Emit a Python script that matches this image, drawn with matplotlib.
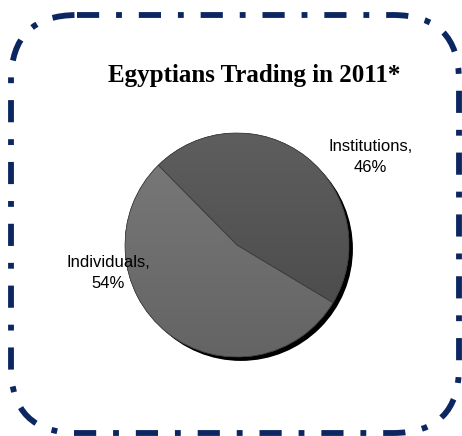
import numpy as np
import matplotlib
matplotlib.use("Agg")
import matplotlib.pyplot as plt
from matplotlib.patches import FancyBboxPatch, Circle, Wedge

# data
labels = ["Institutions", "Individuals"]
shares = [46, 54]
colors_top = ["#5e5e5e", "#7a7a7a"]
colors_bottom = ["#484848", "#646464"]
title = "Egyptians Trading in 2011*"

W, H = 462, 436
fig = plt.figure(figsize=(W / 100, H / 100), dpi=100)

# frame with the dash-dot border, in pixel coordinates
bg = fig.add_axes([0, 0, 1, 1])
bg.set_xlim(0, W)
bg.set_ylim(H, 0)
bg.axis("off")
frame = FancyBboxPatch((11, 15), 448, 418,
                       boxstyle="round,pad=0,rounding_size=66",
                       facecolor="white", edgecolor="#0b2661",
                       linewidth=4.2, linestyle=(0, (3.8, 2.9, 1.0, 2.9)))
frame.set_capstyle("butt")
bg.add_patch(frame)

fig.text(254 / W, 1 - 82 / H, title, ha="center", va="baseline",
         fontsize=18, fontweight="bold", family="Liberation Serif")

# pie
ax = fig.add_axes([125 / W, (H - 357) / H, 224 / W, 224 / H])
ax.set_aspect("equal")
ax.axis("off")

shadow = Circle((0.035, -0.035), 1.0, facecolor="black", edgecolor="none",
                zorder=0, clip_on=False)
ax.add_patch(shadow)

wedges, _ = ax.pie(shares, startangle=-31, counterclock=True, radius=1.0,
                   colors=colors_top,
                   wedgeprops=dict(edgecolor="#3c3c3c", linewidth=0.5))

# soft vertical gradient inside each slice
for w, ct, cb in zip(wedges, colors_top, colors_bottom):
    t = np.array(matplotlib.colors.to_rgb(ct))
    b = np.array(matplotlib.colors.to_rgb(cb))
    g = np.linspace(0, 1, 256)[:, None]
    img = (t[None, :] * (1 - g) + b[None, :] * g)[:, None, :]
    im = ax.imshow(img, extent=[-1, 1, -1, 1], origin="upper",
                   aspect="auto", zorder=1.5)
    im.set_clip_path(w)
    w.set_zorder(1)
    edge = Wedge(w.center, w.r, w.theta1, w.theta2, facecolor="none",
                 edgecolor="#3c3c3c", linewidth=0.5, zorder=2)
    ax.add_patch(edge)

ax.set_xlim(-1, 1)
ax.set_ylim(-1, 1)

label_pos = [(1.19, 0.79), (-1.15, -0.25)]
for name, val, (lx, ly) in zip(labels, shares, label_pos):
    ax.text(lx, ly, f"{name},\n{val}%", ha="center", va="center",
            fontsize=12, family="Liberation Sans", color="black",
            linespacing=1.5, clip_on=False, zorder=3)

fig.savefig("out.png", dpi=100)
